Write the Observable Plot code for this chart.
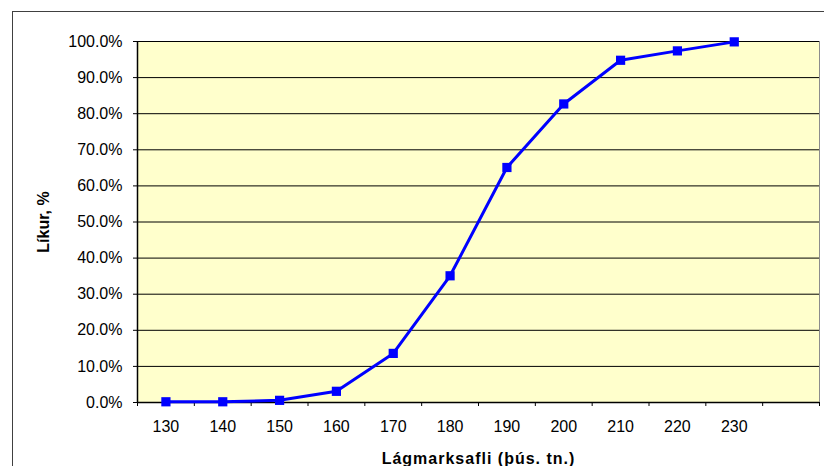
<!DOCTYPE html>
<html><head><meta charset="utf-8">
<script src="https://cdn.jsdelivr.net/npm/d3@7"></script>
<script src="https://cdn.jsdelivr.net/npm/@observablehq/plot@0.6"></script>
<style>
body{margin:0;background:#fff;overflow:hidden;}
#wrap{position:relative;width:824px;height:466px;overflow:hidden;}
#border{position:absolute;left:12px;top:11px;width:900px;height:600px;border:1px solid #404040;pointer-events:none;}
#wrap svg{position:absolute;left:0;top:0;}
</style></head><body>
<div id="wrap"><div id="border"></div></div>
<script>
// Data
const catches = [130, 140, 150, 160, 170, 180, 190, 200, 210, 220, 230];
const probability = [0.002, 0.002, 0.006, 0.031, 0.136, 0.351, 0.651, 0.827, 0.948, 0.974, 0.999];
const xTickLabels = [130, 140, 150, 160, 170, 180, 190, 200, 210, 220, 230];
const xSlotEdges = [125, 135, 145, 155, 165, 175, 185, 195, 205, 215, 225, 235, 245];
const yTicks = [0, 0.1, 0.2, 0.3, 0.4, 0.5, 0.6, 0.7, 0.8, 0.9, 1.0];
const xTitle = "Lágmarksafli (þús. tn.)";
const yTitle = "Líkur, %";

const data = catches.map((c, i) => ({c, p: probability[i]}));

const chart = Plot.plot({
  width: 824,
  height: 466,
  marginLeft: 137,
  marginRight: 5,
  marginTop: 41,
  marginBottom: 64,
  style: {fontFamily: "'Liberation Sans', Arial, sans-serif", fontSize: "16px", background: "transparent", color: "#000"},
  x: {type: "linear", domain: [125, 245]},
  y: {domain: [0, 1]},
  marks: [
    Plot.frame({fill: "#FFFFCC", stroke: "#8c8c8c"}),
    Plot.gridY(yTicks, {stroke: "#000", strokeOpacity: 1, strokeWidth: 1}),
    Plot.ruleX([125], {stroke: "#000", strokeWidth: 1.5}),
    Plot.ruleY([0], {stroke: "#000", strokeWidth: 1.5}),
    Plot.axisX(xSlotEdges, {tickSize: 4, tickFormat: () => "", label: null, stroke: "#000"}),
    Plot.axisX(xTickLabels, {tickSize: 0, tickPadding: 18, label: null, fill: "#000"}),
    Plot.axisY(yTicks, {tickSize: 4, tickPadding: 11, tickFormat: d3.format(".1%"), label: null, fill: "#000", stroke: "#000"}),
    Plot.line(data, {x: "c", y: "p", stroke: "#0000FF", strokeWidth: 3}),
    Plot.dot(data, {x: "c", y: "p", symbol: "square", r: 5.2, fill: "#0000FF"}),
    Plot.text([yTitle], {frameAnchor: "left", rotate: -90, dx: -94, textAnchor: "middle", lineAnchor: "middle", fontWeight: "bold", fill: "#000"}),
    Plot.text([xTitle], {frameAnchor: "bottom", dy: 56, textAnchor: "middle", lineAnchor: "middle", fontWeight: "bold", fill: "#000"})
  ]
});

d3.select(chart).selectAll("text").filter(function() { return this.textContent === xTitle; })
  .style("letter-spacing", "1px");

document.getElementById("wrap").appendChild(chart);
</script>
</body></html>
